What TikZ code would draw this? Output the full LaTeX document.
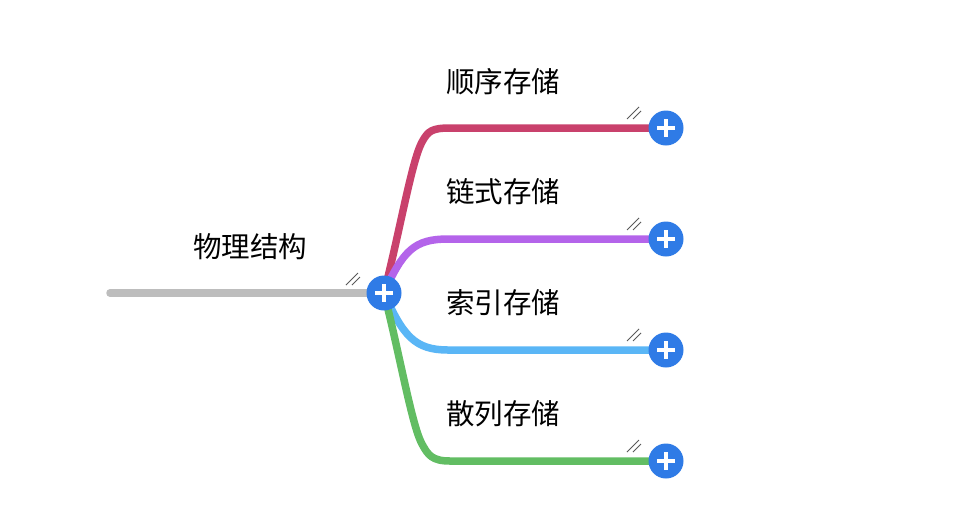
\documentclass[tikz,border=0pt]{standalone}
\usepackage{fontspec}
\newfontfamily\cjk{Noto Sans CJK SC}
\definecolor{rootgray}{HTML}{BDBDBD}
\definecolor{brred}{HTML}{C9416C}
\definecolor{brpurple}{HTML}{B464EA}
\definecolor{brblue}{HTML}{5AB6F6}
\definecolor{brgreen}{HTML}{62BD63}
\definecolor{btnblue}{HTML}{2F7BE6}
\begin{document}
\begin{tikzpicture}[x=1pt,y=-1pt,
  branch/.style={line width=7.5pt,line cap=round},
  label/.style={font=\cjk\fontsize{28.5}{28.5}\selectfont,text=black,inner sep=0pt},
  expander/.style={circle,fill=btnblue,minimum size=35pt,inner sep=0pt,
    path picture={\fill[white] ([xshift=-9pt,yshift=-2pt]path picture bounding box.center) rectangle ++(18pt,4pt);
                  \fill[white] ([xshift=-2pt,yshift=-9pt]path picture bounding box.center) rectangle ++(4pt,18pt);}},
  fold/.style={draw=black!65,line width=0.9pt}]
\useasboundingbox (0,0) rectangle (971,531);
\fill[white] (0,0) rectangle (971,531);

% anchor points
\coordinate (root) at (384,293);
\coordinate (start) at (110,293);
\coordinate (t1) at (666,128);
\coordinate (t2) at (666,239);
\coordinate (t3) at (666,350);
\coordinate (t4) at (666,461);

% branches
\draw[branch,draw=rootgray] (start) -- (root);
\draw[branch,draw=brred] (root) .. controls (400,230) and (412,160) .. (422,142)
  .. controls (428,131) and (432,128) .. (450,128) -- (t1);
\draw[branch,draw=brpurple] (root) .. controls (403,250) and (415,239) .. (448,239) -- (t2);
\draw[branch,draw=brblue] (root) .. controls (403,336) and (415,350) .. (448,350) -- (t3);
\draw[branch,draw=brgreen] (root) .. controls (400,356) and (412,426) .. (422,444)
  .. controls (428,455) and (432,461) .. (450,461) -- (t4);

% fold marks
\foreach \y in {128,239,350,461}{
  \draw[fold] (627,\y-9) -- (639,\y-21);
  \draw[fold] (633,\y-9) -- (641,\y-17);
}
\draw[fold] (346,285) -- (358,273);
\draw[fold] (352,285) -- (360,277);

% expand buttons
\node[expander] (r) at (root) {};
\node[expander] (e1) at (t1) {};
\node[expander] (e2) at (t2) {};
\node[expander] (e3) at (t3) {};
\node[expander] (e4) at (t4) {};

% labels
\node[label] (lroot) at (250,247) {物理结构};
\node[label] (l1) at (503,82) {顺序存储};
\node[label] (l2) at (503,192) {链式存储};
\node[label] (l3) at (503,303) {索引存储};
\node[label] (l4) at (503,414) {散列存储};
\end{tikzpicture}
\end{document}
